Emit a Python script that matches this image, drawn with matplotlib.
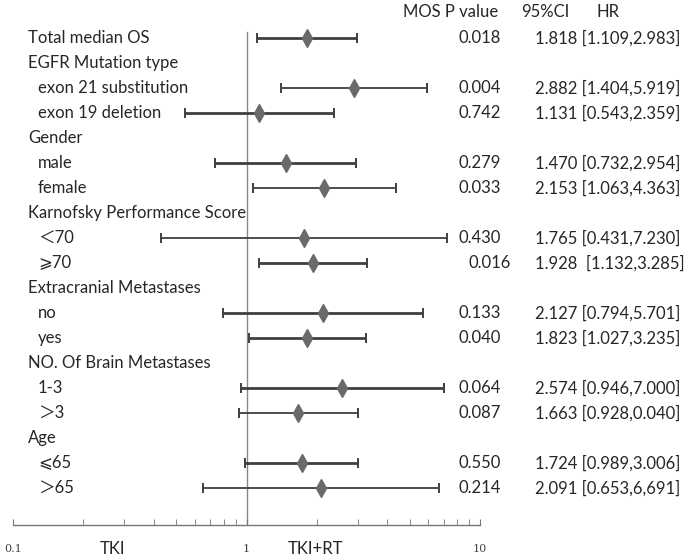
import matplotlib
matplotlib.use("Agg")
import matplotlib.pyplot as plt
import matplotlib.transforms as mtransforms
from matplotlib.ticker import FixedLocator, NullFormatter

labels = ["Total median OS", "EGFR Mutation type", "exon 21 substitution", "exon 19 deletion",
          "Gender", "male", "female", "Karnofsky Performance Score", "＜70", "⩾70",
          "Extracranial Metastases", "no", "yes", "NO. Of Brain Metastases", "1-3", "＞3",
          "Age", "⩽65", "＞65"]
is_header = [True, True, False, False, True, False, False, True, False, False,
             True, False, False, True, False, False, True, False, False]
hr = [1.818, None, 2.882, 1.131, None, 1.470, 2.153, None, 1.765, 1.928,
      None, 2.127, 1.823, None, 2.574, 1.663, None, 1.724, 2.091]
lo = [1.109, None, 1.404, 0.543, None, 0.732, 1.063, None, 0.431, 1.132,
      None, 0.794, 1.027, None, 0.946, 0.928, None, 0.989, 0.653]
hi = [2.983, None, 5.919, 2.359, None, 2.954, 4.363, None, 7.230, 3.285,
      None, 5.701, 3.235, None, 7.000, 3.000, None, 3.006, 6.691]
thin = [False, None, True, False, None, False, True, None, True, False,
        None, False, False, None, False, True, None, False, True]
pvals = ["0.018", "", "0.004", "0.742", "", "0.279", "0.033", "", "0.430", "0.016",
         "", "0.133", "0.040", "", "0.064", "0.087", "", "0.550", "0.214"]
ci_text = ["1.818 [1.109,2.983]", "", "2.882 [1.404,5.919]", "1.131 [0.543,2.359]", "",
           "1.470 [0.732,2.954]", "2.153 [1.063,4.363]", "", "1.765 [0.431,7.230]",
           "1.928  [1.132,3.285]", "", "2.127 [0.794,5.701]", "1.823 [1.027,3.235]", "",
           "2.574 [0.946,7.000]", "1.663 [0.928,0.040]", "", "1.724 [0.989,3.006]",
           "2.091 [0.653,6,691]"]
headers = ["MOS P value", "95%CI", "HR"]
xticks = [0.1, 1, 10]
xtick_labels = ["0.1", "1", "10"]
side_labels = ["TKI", "TKI+RT"]

plt.rcParams['font.family'] = ['Lato', 'DejaVu Sans', 'Noto Sans CJK SC']
W, H = 700, 560
fig = plt.figure(figsize=(7, 5.6), dpi=100)
ax = fig.add_axes([13 / W, 35 / H, 467 / W, 525 / H])
ax.set_xscale('log')
ax.set_xlim(0.1, 10)
n = len(labels)
ax.set_ylim(n + 0.48, -1.52)

line_col = '#3f3f3f'
for i in range(n):
    if hr[i] is None:
        continue
    lw = 1.3 if thin[i] else 2.0
    ax.errorbar([hr[i]], [i], xerr=[[hr[i] - lo[i]], [hi[i] - hr[i]]], fmt='none',
                ecolor=line_col, elinewidth=lw, capsize=3.5, capthick=1.4)
    ax.plot([hr[i]], [i], marker='d', color='#6a6a6a', markersize=9, zorder=3)

ax.plot([1, 1], [n + 0.48, -0.24], color='#888888', lw=1.0, zorder=1)

for s in ['top', 'left', 'right']:
    ax.spines[s].set_visible(False)
ax.spines['bottom'].set_color('#777777')
ax.spines['bottom'].set_linewidth(1.0)
ax.set_yticks([])
ax.xaxis.set_major_locator(FixedLocator(xticks))
ax.set_xticklabels(xtick_labels, fontfamily='DejaVu Serif', fontsize=8, color='#444444')
ax.xaxis.set_minor_locator(FixedLocator([k * 10 ** e for e in (-1, 0) for k in range(2, 10)]))
ax.xaxis.set_minor_formatter(NullFormatter())
ax.tick_params(axis='x', which='both', direction='in', length=4, color='#777777', pad=14)

tr = mtransforms.blended_transform_factory(fig.transFigure, ax.transData)
txt_col = '#262626'
fs = 12
for i in range(n):
    x = 28 if is_header[i] else 38
    ax.text(x / W, i, labels[i], transform=tr, fontsize=fs, color=txt_col,
            va='center', ha='left', clip_on=False)
    if pvals[i]:
        px = 511 if i == 9 else 501
        ax.text(px / W, i, pvals[i], transform=tr, fontsize=fs, color=txt_col,
                va='center', ha='right', clip_on=False)
        ax.text(535 / W, i, ci_text[i], transform=tr, fontsize=fs, color=txt_col,
                va='center', ha='left', clip_on=False)

hx = [403, 521, 597]
for x, h in zip(hx, headers):
    ax.text(x / W, -1.05, h, transform=tr, fontsize=fs, color=txt_col,
            va='center', ha='left', clip_on=False)

fig.text(112 / W, 1 - 549 / H, side_labels[0], fontsize=fs, color=txt_col, ha='center', va='center')
fig.text(316 / W, 1 - 549 / H, side_labels[1], fontsize=fs, color=txt_col, ha='center', va='center')

fig.savefig("out.png", dpi=100)
